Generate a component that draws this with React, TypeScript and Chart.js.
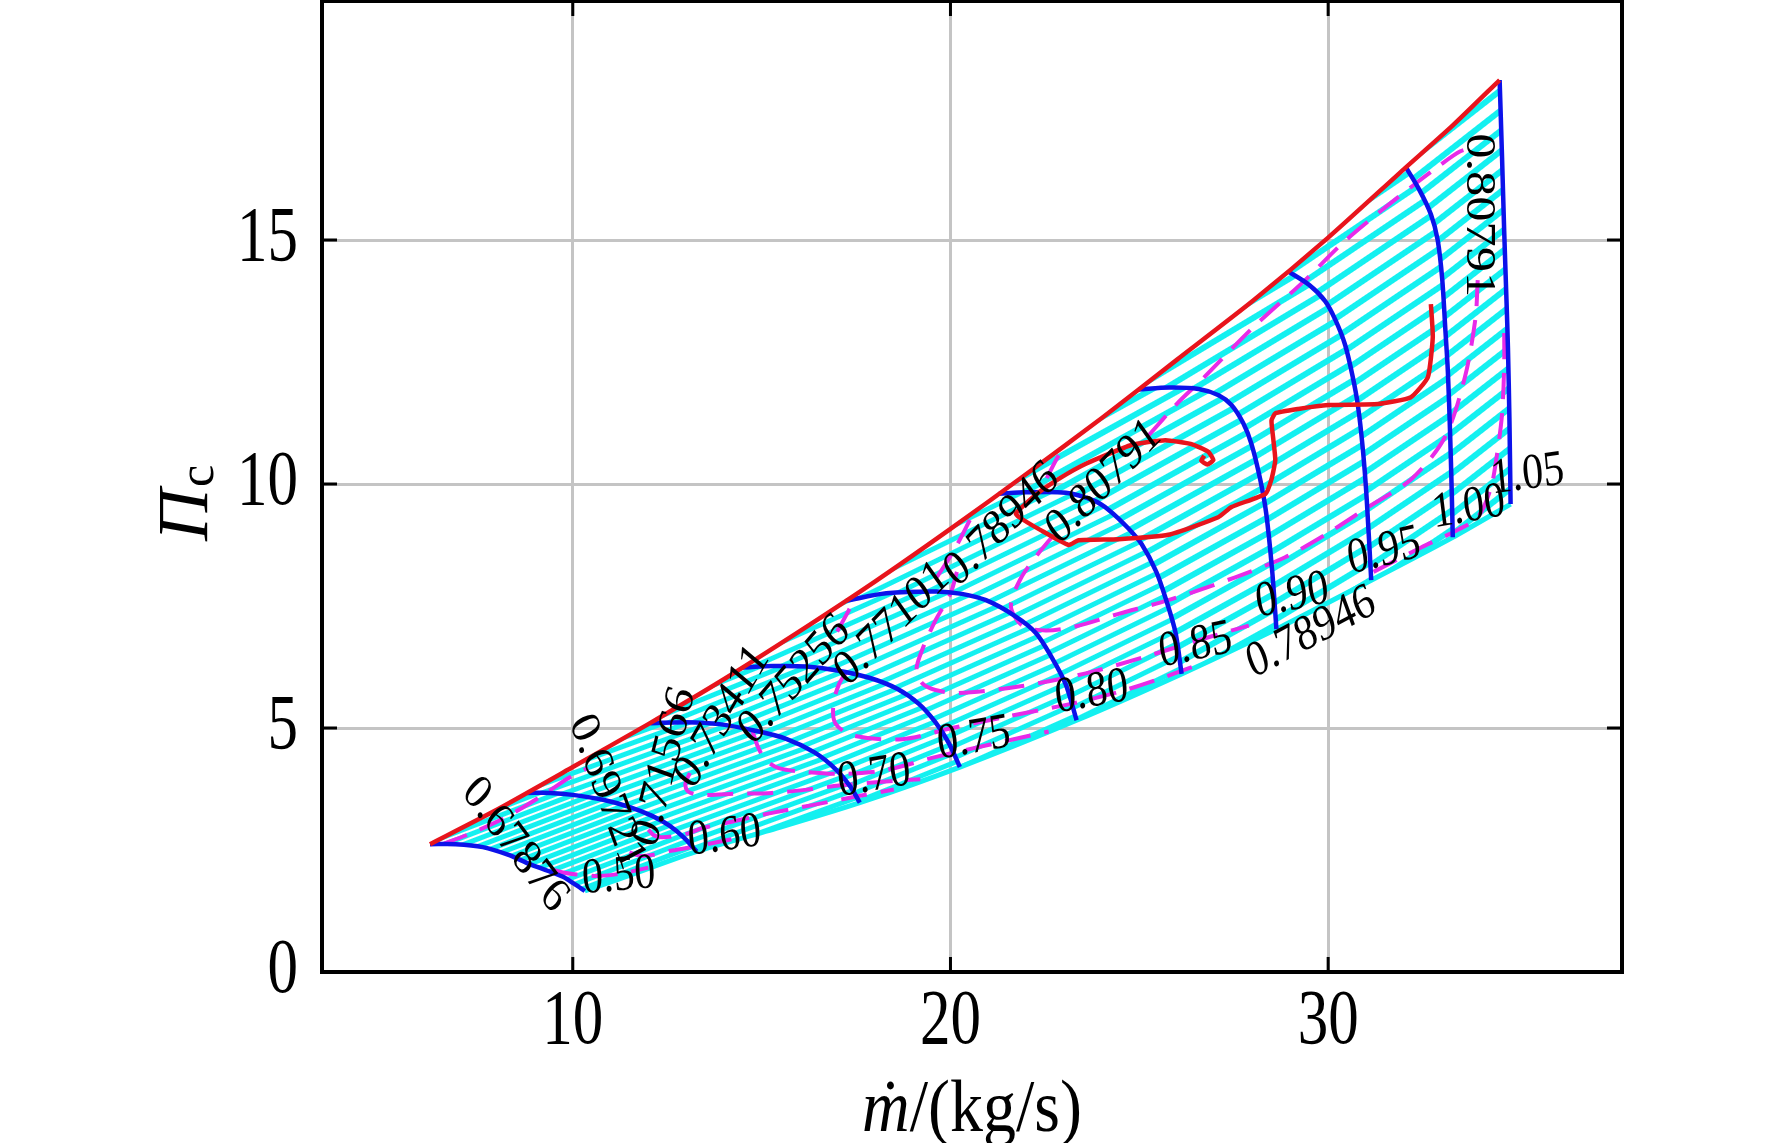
import React, { useEffect, useRef } from 'react';
import { Chart, registerables } from 'chart.js';

Chart.register(...registerables);

type Pt = [number, number];

const xTickValues = [10, 20, 30];
const yTickValues = [0, 5, 10, 15];

// surge line (red)
const surgeLine: Pt[] = [
    [6.22, 2.62], [8, 3.33], [10, 4.2], [12, 5.08], [14, 6.0], [16, 6.98], [18, 8.0], [20, 9.08],
    [22, 10.2], [24, 11.35], [26, 12.55], [28, 13.75], [30, 15.05], [32, 16.45], [33.3, 17.35], [34.54, 18.28],
];

// choke side of the map (last cyan line)
const chokeLine: Pt[] = [
    [10.32, 1.66], [11.5, 1.98], [13.28, 2.47], [15.5, 2.97], [17.6, 3.47], [20.25, 4.2],
    [23.34, 5.16], [26.12, 6.11], [28.63, 7.03], [31.14, 8.03], [33.3, 8.91], [34.83, 9.59],
];

// speed lines (blue), surge -> choke
const speedNames = ['0.50', '0.60', '0.70', '0.75', '0.80', '0.85', '0.90', '0.95', '1.00', '1.05'];
const speed050: Pt[] = [[6.22, 2.62], [6.9, 2.62], [7.62, 2.56], [8.3, 2.4], [8.86, 2.21], [9.35, 2.07], [9.74, 1.95], [10.05, 1.8], [10.32, 1.66]];
const speed060: Pt[] = [[8.8, 3.67], [9.4, 3.67], [10.0, 3.63], [10.8, 3.53], [11.51, 3.38], [12.1, 3.2], [12.56, 3.0], [12.95, 2.75], [13.28, 2.47]];
const speed070: Pt[] = [[12.05, 5.1], [13.0, 5.12], [13.88, 5.08], [14.8, 4.95], [15.65, 4.78], [16.4, 4.5], [16.97, 4.15], [17.35, 3.8], [17.6, 3.47]];
const speed075: Pt[] = [[14.5, 6.24], [15.3, 6.27], [16.18, 6.26], [17.0, 6.18], [17.85, 6.03], [18.6, 5.8], [19.17, 5.49], [19.6, 5.12], [19.95, 4.7], [20.25, 4.2]];
const speed080: Pt[] = [[17.24, 7.61], [18.3, 7.76], [19.62, 7.8], [20.3, 7.75], [20.94, 7.62], [21.7, 7.3], [22.26, 6.95], [22.68, 6.45], [23.05, 5.9], [23.34, 5.16]];
const speed085: Pt[] = [[21.28, 9.8], [22.0, 9.83], [23.05, 9.82], [23.8, 9.66], [24.19, 9.47], [24.7, 9.1], [25.06, 8.77], [25.45, 8.2], [25.72, 7.6], [25.96, 6.95], [26.12, 6.11]];
const speed090: Pt[] = [[24.98, 11.94], [25.8, 11.98], [26.57, 11.95], [27.1, 11.82], [27.44, 11.62], [27.75, 11.25], [27.97, 10.82], [28.2, 10.1], [28.36, 9.4], [28.52, 8.2], [28.63, 7.03]];
const speed095: Pt[] = [[28.94, 14.36], [29.5, 14.08], [29.92, 13.75], [30.2, 13.35], [30.45, 12.85], [30.65, 12.2], [30.79, 11.6], [30.92, 10.7], [31.02, 9.7], [31.14, 8.03]];
const speed100: Pt[] = [[32.06, 16.49], [32.4, 16.05], [32.72, 15.53], [32.9, 15.0], [33.02, 14.2], [33.1, 13.2], [33.17, 12.3], [33.23, 11.0], [33.27, 9.9], [33.3, 8.91]];
const speed105: Pt[] = [[34.54, 18.28], [34.6, 16.8], [34.66, 15.2], [34.72, 13.8], [34.76, 12.8], [34.8, 11.3], [34.83, 9.59]];
const speedLines = [speed050, speed060, speed070, speed075, speed080, speed085, speed090, speed095, speed100, speed105];

// [x, y, angle] of each speed label
const speedLabelAt: [number, number, number][] = [
    [11.22, 1.95, -5], [14.02, 2.77, -8], [17.98, 4.0, -10], [20.62, 4.77, -10], [23.74, 5.72, -10],
    [26.49, 6.68, -12], [29.05, 7.7, -12], [31.48, 8.61, -14], [33.72, 9.51, -10], [35.28, 10.18, -8],
];

// efficiency contours (magenta, dashed), split where the labels sit
const eff67876: Pt[][] = [
    [[9.45, 2.1], [9.74, 2.04], [10.1, 2.0], [10.7, 1.97], [11.3, 2.02], [12.0, 2.14]],
];
const eff69721: Pt[][] = [
    [[6.55, 2.62], [7.3, 2.84], [8.2, 3.16], [9.2, 3.62], [9.9, 3.98], [10.4, 4.18]],
    [[11.5, 2.45], [11.8, 2.38], [12.11, 2.4], [12.64, 2.49], [13.3, 2.58], [14.2, 2.72]],
];
const eff71566: Pt[][] = [
    [[12.0, 2.92], [12.15, 2.8], [12.38, 2.76], [13.01, 2.83], [13.43, 2.95], [14.15, 3.07], [15.13, 3.24], [16.34, 3.42], [17.4, 3.58], [18.5, 3.74]],
];
const eff73411: Pt[][] = [
    [[13.1, 4.08], [12.98, 3.85], [13.05, 3.7], [13.35, 3.63], [14.15, 3.65], [15.28, 3.67], [16.34, 3.75], [17.05, 3.82], [18.2, 3.9], [19.2, 3.95]],
];
const eff75256: Pt[][] = [
    [[17.0, 6.98], [17.3, 7.4], [17.5, 7.72]],
    [[14.74, 4.98], [14.9, 4.62], [15.1, 4.35], [15.45, 4.18], [16.18, 4.1], [17.24, 4.06], [18.3, 4.14], [19.62, 4.41], [21.1, 4.67], [22.6, 4.93]],
];
const eff77101: Pt[][] = [
    [[19.64, 8.09], [20.1, 8.65], [20.55, 9.32]],
    [[17.26, 6.17], [17.05, 5.9], [16.9, 5.5], [16.95, 5.1], [17.4, 4.85], [18.72, 4.77], [20.04, 5.0], [21.47, 5.23], [23.21, 5.5], [24.5, 5.75], [25.5, 6.0], [26.4, 6.25]],
];
const eff78946: Pt[][] = [
    [[22.55, 10.12], [22.8, 10.5], [23.05, 10.8]],
    [[20.17, 8.2], [20.0, 7.75], [19.6, 7.2], [19.25, 6.6], [19.1, 6.2], [19.25, 5.92], [19.6, 5.78], [20.22, 5.72], [21.81, 5.85], [23.58, 6.12], [25.32, 6.5], [26.83, 6.86], [27.9, 7.1]],
    [[31.2, 8.2], [32.46, 8.7], [33.4, 9.05], [33.96, 9.32], [34.3, 9.9], [34.45, 10.5], [34.6, 11.4], [34.66, 12.4], [34.66, 13.3]],
];
const eff80791: Pt[][] = [
    [[25.25, 11.0], [26.0, 11.65], [26.64, 12.13], [28.0, 13.2], [29.39, 14.18], [30.4, 14.95], [31.4, 15.6], [32.3, 16.15], [32.9, 16.5], [33.5, 16.82], [33.9, 16.9]],
    [[33.96, 14.18], [33.9, 13.4], [33.62, 12.19], [33.09, 10.96], [32.2, 10.1], [31.06, 9.53], [29.9, 8.95], [28.86, 8.5], [27.54, 8.09], [25.77, 7.62], [24.45, 7.34], [23.3, 7.08], [22.52, 7.0], [21.9, 7.1], [21.6, 7.5], [21.85, 8.05], [22.3, 8.55], [22.87, 9.08]],
];
const effLines = [eff67876, eff69721, eff71566, eff73411, eff75256, eff77101, eff78946, eff80791];

// [text, x, y, angle] of each contour label
const effLabelAt: [string, number, number, number][] = [
    ['0.67876', 8.47, 2.6, 53],
    ['0.69721', 10.9, 3.69, 70],
    ['0.71566', 12.43, 4.2, -76],
    ['0.73411', 13.96, 5.23, -60],
    ['0.75256', 15.87, 5.98, -49],
    ['0.77101', 18.45, 7.13, -46],
    ['0.78946', 21.36, 9.16, -46],
    ['0.80791', 24.06, 10.04, -46],
    ['0.80791', 33.96, 15.51, 90],
    ['0.78946', 29.55, 6.95, -28],
];

// operating line (red)
const workingLine: Pt[] = [
    [32.72, 13.69], [32.77, 13.01], [32.64, 12.19], [32.19, 11.78], [31.32, 11.64], [30.0, 11.62], [29.21, 11.54],
    [28.6, 11.45], [28.5, 11.3], [28.55, 10.9], [28.6, 10.49], [28.5, 10.1], [28.34, 9.8], [27.44, 9.53], [27.09, 9.32],
    [25.77, 8.96], [24.45, 8.87], [23.39, 8.85], [23.13, 8.75], [22.4, 9.05], [21.8, 9.33], [21.73, 9.4], [22.26, 9.78],
    [22.9, 10.12], [23.6, 10.42], [24.79, 10.8], [25.69, 10.9], [26.38, 10.82], [26.83, 10.66], [26.96, 10.49],
    [26.8, 10.4], [26.64, 10.48], [26.72, 10.58],
];

// hatch look of each band between two speed lines
const hatchStyle = [
    { angle: 21, period: 7, band: 5 },
    { angle: 20, period: 8, band: 5 },
    { angle: 22, period: 9, band: 5 },
    { angle: 24, period: 11, band: 5 },
    { angle: 26, period: 12, band: 5 },
    { angle: 29, period: 14, band: 6 },
    { angle: 31, period: 15, band: 6 },
    { angle: 34, period: 16, band: 6 },
    { angle: 38, period: 16, band: 6 },
];

const CYAN = '#14f0f0';
const BLUE = '#0c12ea';
const RED = '#e8141c';
const MAGENTA = '#e82ae8';
const FONT = "'Liberation Serif', 'Times New Roman', serif";

const toXY = (pts: Pt[]) => pts.map(([x, y]) => ({ x, y }));

function bandPolygon(a: Pt[], b: Pt[]): Pt[] {
    const aEnd = a[a.length - 1];
    const bEnd = b[b.length - 1];
    const low = chokeLine.filter(p => p[0] > aEnd[0] + 1e-6 && p[0] < bEnd[0] - 1e-6);
    const top = surgeLine.filter(p => p[0] > a[0][0] + 1e-6 && p[0] < b[0][0] - 1e-6).reverse();
    return [...a, ...low, ...[...b].reverse(), ...top];
}

function stripes(ctx: CanvasRenderingContext2D, angle: number, period: number, band: number) {
    const tile = document.createElement('canvas');
    tile.width = 8;
    tile.height = period;
    const t = tile.getContext('2d')!;
    t.fillStyle = CYAN;
    t.fillRect(0, 0, 8, band);
    const pattern = ctx.createPattern(tile, 'repeat')!;
    pattern.setTransform(new DOMMatrix().rotate(-angle));
    return pattern;
}

// the figure's text is a little taller than wide: draw it stretched upward
function tallText(ctx: CanvasRenderingContext2D, text: string, x: number, y: number, rot: number,
                  font: string, sy: number, align: CanvasTextAlign = 'center') {
    const r = (rot * Math.PI) / 180;
    ctx.save();
    ctx.translate(x, y);
    ctx.scale(1, sy);
    ctx.rotate(Math.atan2(Math.sin(r) / sy, Math.cos(r)));
    ctx.font = font;
    ctx.textAlign = align;
    ctx.textBaseline = 'middle';
    ctx.fillText(text, 0, 0);
    ctx.restore();
}

const decor = {
    id: 'decor',
    afterDatasetsDraw(chart: any) {
        const { ctx, scales } = chart;
        const put = (text: string, x: number, y: number, rot: number) =>
            tallText(ctx, text, scales.x.getPixelForValue(x), scales.y.getPixelForValue(y), rot, `42px ${FONT}`, 1.2);
        ctx.save();
        ctx.fillStyle = '#000';
        speedLabelAt.forEach(([x, y, r], i) => put(speedNames[i], x, y, r));
        effLabelAt.forEach(([s, x, y, r]) => put(s, x, y, r));
        ctx.restore();
    },
    afterDraw(chart: any) {
        const { ctx, chartArea: a, scales } = chart;
        ctx.save();
        ctx.strokeStyle = '#000';
        ctx.lineWidth = 3;
        ctx.beginPath();
        xTickValues.forEach(v => {
            const px = scales.x.getPixelForValue(v);
            ctx.moveTo(px, a.top); ctx.lineTo(px, a.top + 15);
            ctx.moveTo(px, a.bottom); ctx.lineTo(px, a.bottom - 15);
        });
        yTickValues.forEach(v => {
            const py = scales.y.getPixelForValue(v);
            ctx.moveTo(a.left, py); ctx.lineTo(a.left + 15, py);
            ctx.moveTo(a.right, py); ctx.lineTo(a.right - 15, py);
        });
        ctx.stroke();
        ctx.lineWidth = 4;
        ctx.strokeRect(a.left, a.top, a.right - a.left, a.bottom - a.top);

        // tick labels
        ctx.fillStyle = '#000';
        const tickFont = `61px ${FONT}`;
        xTickValues.forEach(v => tallText(ctx, String(v), scales.x.getPixelForValue(v), 1023, 0, tickFont, 1.27));
        yTickValues.forEach(v => tallText(ctx, String(v), 298, scales.y.getPixelForValue(v), 0, tickFont, 1.27, 'right'));

        // x title: m-dot/(kg/s)
        ctx.font = `italic 66px ${FONT}`;
        const wm = ctx.measureText('ṁ').width;
        ctx.font = `66px ${FONT}`;
        const wr = ctx.measureText('/(kg/s)').width;
        const x0 = (a.left + a.right) / 2 - (wm + wr) / 2;
        ctx.save();
        ctx.translate(0, 1112);
        ctx.scale(1, 1.12);
        ctx.textBaseline = 'middle';
        ctx.textAlign = 'left';
        ctx.font = `italic 66px ${FONT}`;
        ctx.fillText('ṁ', x0, 0);
        ctx.font = `66px ${FONT}`;
        ctx.fillText('/(kg/s)', x0 + wm, 0);
        ctx.restore();

        // y title: Pi with subscript c
        ctx.translate(207, 541);
        ctx.rotate(-Math.PI / 2);
        ctx.textBaseline = 'alphabetic';
        ctx.textAlign = 'left';
        ctx.font = `italic 72px ${FONT}`;
        ctx.fillText('Π', 0, 0);
        const wp = ctx.measureText('Π').width;
        ctx.font = `50px ${FONT}`;
        ctx.fillText('c', wp + 2, 6);
        ctx.restore();
    },
};

const App: React.FC = () => {
    const chartRef = useRef<HTMLCanvasElement>(null);

    useEffect(() => {
        const ctx = chartRef.current?.getContext('2d');
        if (!ctx) return;

        const curve = (pts: Pt[], color: string, width: number, order: number, dash: number[] = [], tension = 0.3) => ({
            data: toXY(pts),
            showLine: true,
            borderColor: color,
            borderWidth: width,
            borderDash: dash,
            pointRadius: 0,
            pointHoverRadius: 0,
            tension,
            fill: false,
            order,
        });

        const bands = speedLines.slice(0, -1).map((s, i) => {
            const h = hatchStyle[i];
            return {
                data: toXY(bandPolygon(s, speedLines[i + 1])),
                showLine: true,
                borderColor: 'rgba(0,0,0,0)',
                borderWidth: 0,
                pointRadius: 0,
                pointHoverRadius: 0,
                tension: 0,
                fill: 'shape',
                backgroundColor: stripes(ctx, h.angle, h.period, h.band),
                order: 10,
            };
        });

        const datasets: any[] = [
            ...bands,
            curve(chokeLine, CYAN, 5, 9, [], 0.2),
            ...effLines.flatMap(c => c.map(seg => curve(seg, MAGENTA, 4, 6, [26, 14]))),
            ...speedLines.map(s => curve(s, BLUE, 4.5, 4)),
            curve(surgeLine, RED, 4.5, 2, [], 0.2),
            curve(workingLine, RED, 4.5, 2, [], 0.15),
        ];

        const chart = new Chart(ctx, {
            type: 'scatter',
            data: { datasets },
            options: {
                responsive: true,
                maintainAspectRatio: false,
                animation: false,
                events: [],
                layout: { padding: { left: 0, right: 150, top: 1, bottom: 0 } },
                plugins: {
                    legend: { display: false },
                    tooltip: { enabled: false },
                    title: { display: false },
                },
                scales: {
                    x: {
                        type: 'linear',
                        min: 3.36,
                        max: 37.78,
                        afterBuildTicks: (scale: any) => {
                            scale.ticks = xTickValues.map(value => ({ value }));
                        },
                        afterFit: (scale: any) => {
                            scale.height = 171;
                            scale.paddingLeft = 0;
                            scale.paddingRight = 0;
                            scale.paddingTop = 0;
                            scale.paddingBottom = 0;
                        },
                        ticks: { display: false },
                        grid: { color: '#c4c4c4', lineWidth: 3, drawTicks: false },
                        border: { display: false },
                    },
                    y: {
                        type: 'linear',
                        min: 0,
                        max: 19.9,
                        afterBuildTicks: (scale: any) => {
                            scale.ticks = yTickValues.map(value => ({ value }));
                        },
                        afterFit: (scale: any) => {
                            scale.width = 322;
                            scale.paddingLeft = 0;
                            scale.paddingRight = 0;
                            scale.paddingTop = 0;
                            scale.paddingBottom = 0;
                        },
                        ticks: { display: false },
                        grid: { color: '#c4c4c4', lineWidth: 3, drawTicks: false },
                        border: { display: false },
                    },
                },
            },
            plugins: [decor],
        });

        return () => chart.destroy();
    }, []);

    return (
        <div style={{ position: 'absolute', left: 0, top: 0, width: 1772, height: 1143, background: '#fff' }}>
            <canvas ref={chartRef} />
        </div>
    );
};

export default App;
